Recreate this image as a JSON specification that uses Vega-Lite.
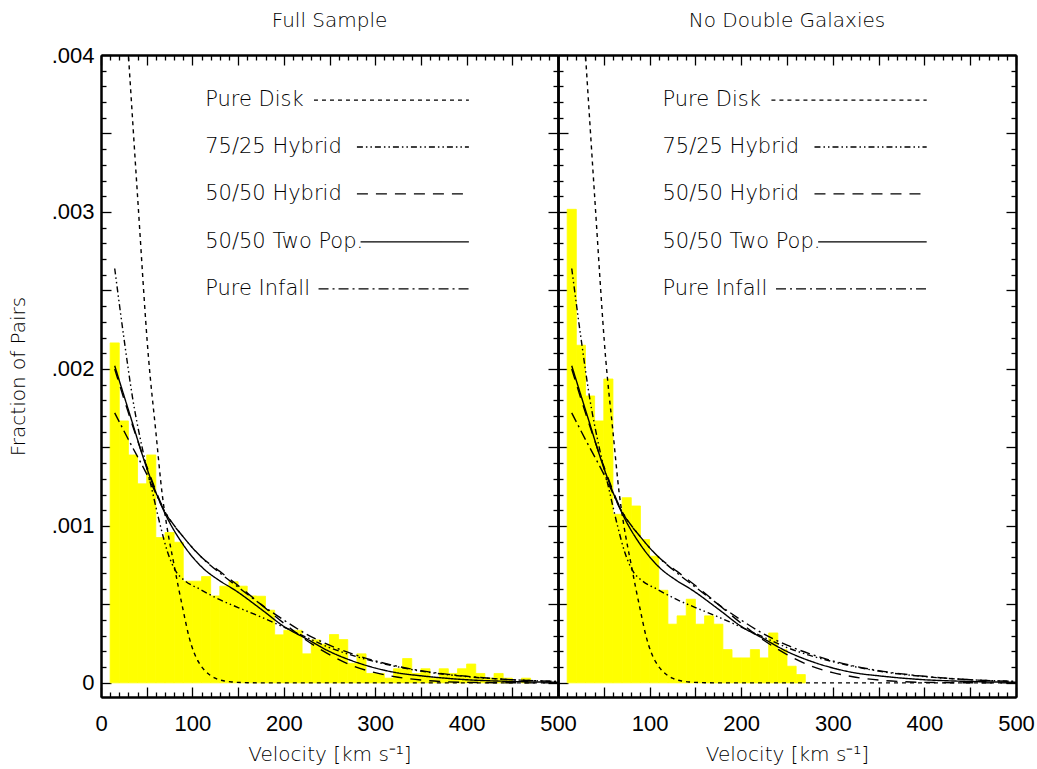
{
  "$schema": "https://vega.github.io/schema/vega-lite/v6.json",
  "padding": {"left": 8, "top": 11, "right": 2, "bottom": 4},
  "bounds": "flush",
  "spacing": 0,
  "config": {
    "view": {"stroke": null},
    "axis": {"grid": false, "domainColor": "black", "domainWidth": 2, "tickColor": "black", "tickWidth": 1.3,
      "labelFont": "Liberation Sans", "labelFontSize": 22, "labelColor": "black", "labelOverlap": false, "labelFlush": false, "labelBound": false,
      "titleFont": "DejaVu Sans", "titleFontWeight": 300, "titleFontSize": 20, "titleColor": "black"},
    "title": {"font": "DejaVu Sans", "fontWeight": 300, "fontSize": 20, "color": "black", "frame": "group"}
  },
  "datasets": {
    "hist": [
      {"panel": "L", "lo": 10, "hi": 20, "f": 0.002166}, {"panel": "L", "lo": 20, "hi": 30, "f": 0.001669},
      {"panel": "L", "lo": 30, "hi": 40, "f": 0.001452}, {"panel": "L", "lo": 40, "hi": 50, "f": 0.001268},
      {"panel": "L", "lo": 50, "hi": 60, "f": 0.001452}, {"panel": "L", "lo": 60, "hi": 70, "f": 0.000926},
      {"panel": "L", "lo": 70, "hi": 80, "f": 0.000958}, {"panel": "L", "lo": 80, "hi": 90, "f": 0.000896},
      {"panel": "L", "lo": 90, "hi": 100, "f": 0.000648}, {"panel": "L", "lo": 100, "hi": 110, "f": 0.000648},
      {"panel": "L", "lo": 110, "hi": 120, "f": 0.000677}, {"panel": "L", "lo": 120, "hi": 130, "f": 0.000554},
      {"panel": "L", "lo": 130, "hi": 140, "f": 0.000616}, {"panel": "L", "lo": 140, "hi": 150, "f": 0.000645},
      {"panel": "L", "lo": 150, "hi": 160, "f": 0.000616}, {"panel": "L", "lo": 160, "hi": 170, "f": 0.000554},
      {"panel": "L", "lo": 170, "hi": 180, "f": 0.000552}, {"panel": "L", "lo": 180, "hi": 190, "f": 0.000463},
      {"panel": "L", "lo": 190, "hi": 200, "f": 0.000306}, {"panel": "L", "lo": 200, "hi": 210, "f": 0.000335},
      {"panel": "L", "lo": 210, "hi": 220, "f": 0.000335}, {"panel": "L", "lo": 220, "hi": 230, "f": 0.000185},
      {"panel": "L", "lo": 230, "hi": 240, "f": 0.000274}, {"panel": "L", "lo": 240, "hi": 250, "f": 0.000246},
      {"panel": "L", "lo": 250, "hi": 260, "f": 0.000308}, {"panel": "L", "lo": 260, "hi": 270, "f": 0.000276},
      {"panel": "L", "lo": 270, "hi": 280, "f": 0.000125}, {"panel": "L", "lo": 280, "hi": 290, "f": 0.000185},
      {"panel": "L", "lo": 290, "hi": 300, "f": 0.00006}, {"panel": "L", "lo": 300, "hi": 310, "f": 0.00006},
      {"panel": "L", "lo": 310, "hi": 320, "f": 0.00003}, {"panel": "L", "lo": 320, "hi": 330, "f": 0.00009},
      {"panel": "L", "lo": 330, "hi": 340, "f": 0.000155}, {"panel": "L", "lo": 340, "hi": 350, "f": 0.00006},
      {"panel": "L", "lo": 350, "hi": 360, "f": 0.00009}, {"panel": "L", "lo": 360, "hi": 370, "f": 0.00003},
      {"panel": "L", "lo": 370, "hi": 380, "f": 0.00009}, {"panel": "L", "lo": 380, "hi": 390, "f": 0.00006},
      {"panel": "L", "lo": 390, "hi": 400, "f": 0.00009}, {"panel": "L", "lo": 400, "hi": 410, "f": 0.00012},
      {"panel": "L", "lo": 410, "hi": 420, "f": 0.00006}, {"panel": "L", "lo": 420, "hi": 430, "f": 0.00003},
      {"panel": "L", "lo": 430, "hi": 440, "f": 0.00006}, {"panel": "L", "lo": 440, "hi": 450, "f": 0.00003},
      {"panel": "L", "lo": 460, "hi": 470, "f": 0.00003},
      {"panel": "R", "lo": 10, "hi": 20, "f": 0.003017}, {"panel": "R", "lo": 20, "hi": 30, "f": 0.002151},
      {"panel": "R", "lo": 30, "hi": 40, "f": 0.001828}, {"panel": "R", "lo": 40, "hi": 50, "f": 0.001669},
      {"panel": "R", "lo": 50, "hi": 60, "f": 0.001936}, {"panel": "R", "lo": 60, "hi": 70, "f": 0.001074},
      {"panel": "R", "lo": 70, "hi": 80, "f": 0.00118}, {"panel": "R", "lo": 80, "hi": 90, "f": 0.001127},
      {"panel": "R", "lo": 90, "hi": 100, "f": 0.000913}, {"panel": "R", "lo": 100, "hi": 110, "f": 0.000807},
      {"panel": "R", "lo": 110, "hi": 120, "f": 0.00059}, {"panel": "R", "lo": 120, "hi": 130, "f": 0.000374},
      {"panel": "R", "lo": 130, "hi": 140, "f": 0.000427}, {"panel": "R", "lo": 140, "hi": 150, "f": 0.000533},
      {"panel": "R", "lo": 150, "hi": 160, "f": 0.000374}, {"panel": "R", "lo": 160, "hi": 170, "f": 0.000427},
      {"panel": "R", "lo": 170, "hi": 180, "f": 0.000374}, {"panel": "R", "lo": 180, "hi": 190, "f": 0.000212},
      {"panel": "R", "lo": 190, "hi": 200, "f": 0.000159}, {"panel": "R", "lo": 200, "hi": 210, "f": 0.000159},
      {"panel": "R", "lo": 210, "hi": 220, "f": 0.000212}, {"panel": "R", "lo": 220, "hi": 230, "f": 0.000159},
      {"panel": "R", "lo": 230, "hi": 240, "f": 0.000318}, {"panel": "R", "lo": 240, "hi": 250, "f": 0.000212},
      {"panel": "R", "lo": 250, "hi": 260, "f": 0.000106}, {"panel": "R", "lo": 260, "hi": 270, "f": 0.000053}
    ],
    "curves": [
      {"model": "Pure Disk", "v": 20, "f": 0.0049}, {"model": "Pure Disk", "v": 30, "f": 0.004},
      {"model": "Pure Disk", "v": 40, "f": 0.0031}, {"model": "Pure Disk", "v": 52, "f": 0.00207},
      {"model": "Pure Disk", "v": 60, "f": 0.0016}, {"model": "Pure Disk", "v": 67, "f": 0.0012},
      {"model": "Pure Disk", "v": 72, "f": 0.001}, {"model": "Pure Disk", "v": 80, "f": 0.00075},
      {"model": "Pure Disk", "v": 85, "f": 0.0006}, {"model": "Pure Disk", "v": 90, "f": 0.00046},
      {"model": "Pure Disk", "v": 96, "f": 0.0003}, {"model": "Pure Disk", "v": 102, "f": 0.00019},
      {"model": "Pure Disk", "v": 107, "f": 0.00013}, {"model": "Pure Disk", "v": 115, "f": 0.00007},
      {"model": "Pure Disk", "v": 125, "f": 0.00003}, {"model": "Pure Disk", "v": 135, "f": 0.000012},
      {"model": "Pure Disk", "v": 145, "f": 0.000005}, {"model": "Pure Disk", "v": 160, "f": 0.000001},
      {"model": "Pure Disk", "v": 180, "f": 0}, {"model": "Pure Disk", "v": 500, "f": 0},
      {"model": "75/25 Hybrid", "v": 15, "f": 0.00264}, {"model": "75/25 Hybrid", "v": 25, "f": 0.0022},
      {"model": "75/25 Hybrid", "v": 35, "f": 0.0018}, {"model": "75/25 Hybrid", "v": 45, "f": 0.0015},
      {"model": "75/25 Hybrid", "v": 55, "f": 0.00125}, {"model": "75/25 Hybrid", "v": 65, "f": 0.001},
      {"model": "75/25 Hybrid", "v": 73, "f": 0.00083}, {"model": "75/25 Hybrid", "v": 82, "f": 0.00071},
      {"model": "75/25 Hybrid", "v": 92, "f": 0.00065}, {"model": "75/25 Hybrid", "v": 107, "f": 0.0006},
      {"model": "75/25 Hybrid", "v": 130, "f": 0.00053}, {"model": "75/25 Hybrid", "v": 150, "f": 0.00048},
      {"model": "75/25 Hybrid", "v": 175, "f": 0.00042}, {"model": "75/25 Hybrid", "v": 200, "f": 0.000355},
      {"model": "75/25 Hybrid", "v": 225, "f": 0.00029}, {"model": "75/25 Hybrid", "v": 250, "f": 0.000225},
      {"model": "75/25 Hybrid", "v": 275, "f": 0.000175}, {"model": "75/25 Hybrid", "v": 300, "f": 0.000135},
      {"model": "75/25 Hybrid", "v": 350, "f": 0.000075}, {"model": "75/25 Hybrid", "v": 400, "f": 0.00004},
      {"model": "75/25 Hybrid", "v": 450, "f": 0.00002}, {"model": "75/25 Hybrid", "v": 500, "f": 0.000009},
      {"model": "50/50 Hybrid", "v": 15, "f": 0.002}, {"model": "50/50 Hybrid", "v": 30, "f": 0.00172},
      {"model": "50/50 Hybrid", "v": 50, "f": 0.00138}, {"model": "50/50 Hybrid", "v": 70, "f": 0.00109},
      {"model": "50/50 Hybrid", "v": 90, "f": 0.00093}, {"model": "50/50 Hybrid", "v": 110, "f": 0.0008},
      {"model": "50/50 Hybrid", "v": 130, "f": 0.00071}, {"model": "50/50 Hybrid", "v": 150, "f": 0.00062},
      {"model": "50/50 Hybrid", "v": 175, "f": 0.0005}, {"model": "50/50 Hybrid", "v": 200, "f": 0.00038},
      {"model": "50/50 Hybrid", "v": 225, "f": 0.00027}, {"model": "50/50 Hybrid", "v": 250, "f": 0.00018},
      {"model": "50/50 Hybrid", "v": 275, "f": 0.00011}, {"model": "50/50 Hybrid", "v": 300, "f": 0.000065},
      {"model": "50/50 Hybrid", "v": 325, "f": 0.000036}, {"model": "50/50 Hybrid", "v": 350, "f": 0.000018},
      {"model": "50/50 Hybrid", "v": 375, "f": 0.000008}, {"model": "50/50 Hybrid", "v": 400, "f": 0.000003},
      {"model": "50/50 Hybrid", "v": 450, "f": 0.0000005}, {"model": "50/50 Hybrid", "v": 500, "f": 0},
      {"model": "50/50 Two Pop.", "v": 15, "f": 0.00202}, {"model": "50/50 Two Pop.", "v": 31, "f": 0.00172},
      {"model": "50/50 Two Pop.", "v": 50, "f": 0.00137}, {"model": "50/50 Two Pop.", "v": 70, "f": 0.00108},
      {"model": "50/50 Two Pop.", "v": 90, "f": 0.00088}, {"model": "50/50 Two Pop.", "v": 109, "f": 0.000745},
      {"model": "50/50 Two Pop.", "v": 130, "f": 0.00065}, {"model": "50/50 Two Pop.", "v": 146, "f": 0.000593},
      {"model": "50/50 Two Pop.", "v": 175, "f": 0.00047}, {"model": "50/50 Two Pop.", "v": 200, "f": 0.00036},
      {"model": "50/50 Two Pop.", "v": 225, "f": 0.00028}, {"model": "50/50 Two Pop.", "v": 250, "f": 0.0002},
      {"model": "50/50 Two Pop.", "v": 275, "f": 0.00014}, {"model": "50/50 Two Pop.", "v": 300, "f": 0.000095},
      {"model": "50/50 Two Pop.", "v": 325, "f": 0.000063}, {"model": "50/50 Two Pop.", "v": 350, "f": 0.000045},
      {"model": "50/50 Two Pop.", "v": 400, "f": 0.00002}, {"model": "50/50 Two Pop.", "v": 450, "f": 0.000009},
      {"model": "50/50 Two Pop.", "v": 500, "f": 0.000004},
      {"model": "Pure Infall", "v": 15, "f": 0.00172}, {"model": "Pure Infall", "v": 30, "f": 0.00155},
      {"model": "Pure Infall", "v": 50, "f": 0.00133}, {"model": "Pure Infall", "v": 70, "f": 0.00109},
      {"model": "Pure Infall", "v": 90, "f": 0.00093}, {"model": "Pure Infall", "v": 110, "f": 0.0008},
      {"model": "Pure Infall", "v": 130, "f": 0.0007}, {"model": "Pure Infall", "v": 150, "f": 0.00061},
      {"model": "Pure Infall", "v": 175, "f": 0.0005}, {"model": "Pure Infall", "v": 200, "f": 0.0004},
      {"model": "Pure Infall", "v": 225, "f": 0.00031}, {"model": "Pure Infall", "v": 250, "f": 0.00024},
      {"model": "Pure Infall", "v": 275, "f": 0.000185}, {"model": "Pure Infall", "v": 300, "f": 0.00014},
      {"model": "Pure Infall", "v": 325, "f": 0.000105}, {"model": "Pure Infall", "v": 350, "f": 0.000078},
      {"model": "Pure Infall", "v": 400, "f": 0.000042}, {"model": "Pure Infall", "v": 450, "f": 0.00002},
      {"model": "Pure Infall", "v": 500, "f": 0.000009}
    ],
    "legend": [
      {"model": "Pure Disk", "tx": 114, "x1": 233, "x2": 402.5, "y": 0.003713},
      {"model": "75/25 Hybrid", "tx": 114, "x1": 280, "x2": 402.5, "y": 0.003414},
      {"model": "50/50 Hybrid", "tx": 114, "x1": 280, "x2": 402.5, "y": 0.003115},
      {"model": "50/50 Two Pop.", "tx": 114, "x1": 284, "x2": 402.5, "y": 0.002809},
      {"model": "Pure Infall", "tx": 114, "x1": 238, "x2": 402.5, "y": 0.00251}
    ]
  },
  "hconcat": [
    {
      "width": 457, "height": 642,
      "title": {"text": "Full Sample", "offset": 13},
      "layer": [
        {
          "data": {"name": "hist"},
          "transform": [{"filter": "datum.panel === 'L'"}],
          "mark": {"type": "bar", "color": "#FFFF00", "stroke": "#FFFF00", "strokeWidth": 0.8},
          "encoding": {
            "x": {"field": "lo", "type": "quantitative", "scale": {"domain": [0, 500], "nice": false, "zero": false},
              "axis": {"orient": "bottom", "values": [0,50,100,150,200,250,300,350,400,450,500], "tickSize": -10,
                "labelExpr": "datum.value % 100 === 0 ? datum.label : ''", "labelPadding": 26,
                "title": "Velocity [km s⁻¹]", "titlePadding": 10}},
            "x2": {"field": "hi"},
            "y": {"field": "f", "type": "quantitative", "scale": {"domain": [-0.00009, 0.004], "nice": false, "zero": false},
              "axis": {"orient": "left", "values": [0,0.0005,0.001,0.0015,0.002,0.0025,0.003,0.0035,0.004], "tickSize": -10,
                "labelExpr": "datum.value === 0 ? '0' : (round(datum.value*10000) % 10 === 0 ? replace(format(datum.value, '.3f'), '0.', '.') : '')",
                "labelPadding": 17, "title": "Fraction of Pairs", "titlePadding": 23}},
            "y2": {"datum": 0}
          }
        },
        {
          "data": {"name": "curves"},
          "mark": {"type": "line", "clip": true, "color": "black", "strokeWidth": 1.4, "interpolate": "monotone"},
          "encoding": {
            "x": {"field": "v", "type": "quantitative", "scale": {"domain": [0, 500], "nice": false, "zero": false},
              "axis": {"orient": "top", "values": [0,50,100,150,200,250,300,350,400,450,500], "tickSize": -10, "labels": false, "title": null}},
            "y": {"field": "f", "type": "quantitative", "scale": {"domain": [-0.00009, 0.004], "nice": false, "zero": false},
              "axis": {"orient": "right", "values": [0,0.0005,0.001,0.0015,0.002,0.0025,0.003,0.0035,0.004], "tickSize": -10, "labels": false, "title": null}},
            "strokeDash": {"field": "model", "type": "nominal", "legend": null,
              "scale": {"domain": ["Pure Disk", "75/25 Hybrid", "50/50 Hybrid", "50/50 Two Pop.", "Pure Infall"],
                "range": [[4, 4], [6, 3, 1.5, 3, 1.5, 3], [11, 8], [1, 0], [10, 4, 2, 4]]}}
          }
        },
        {
          "data": {"name": "legend"},
          "mark": {"type": "rule", "color": "black", "strokeWidth": 1.3},
          "encoding": {
            "x": {"field": "x1", "type": "quantitative", "scale": {"domain": [0, 500], "nice": false, "zero": false},
              "axis": {"orient": "bottom", "values": [10,20,30,40,60,70,80,90,110,120,130,140,160,170,180,190,210,220,230,240,260,270,280,290,310,320,330,340,360,370,380,390,410,420,430,440,460,470,480,490], "tickSize": -5, "labels": false, "title": null}},
            "x2": {"field": "x2"},
            "y": {"field": "y", "type": "quantitative", "scale": {"domain": [-0.00009, 0.004], "nice": false, "zero": false},
              "axis": {"orient": "left", "values": [0.0001,0.0002,0.0003,0.0004,0.0006,0.0007,0.0008,0.0009,0.0011,0.0012,0.0013,0.0014,0.0016,0.0017,0.0018,0.0019,0.0021,0.0022,0.0023,0.0024,0.0026,0.0027,0.0028,0.0029,0.0031,0.0032,0.0033,0.0034,0.0036,0.0037,0.0038,0.0039], "tickSize": -5, "labels": false, "title": null}},
            "strokeDash": {"field": "model", "type": "nominal", "legend": null}
          }
        },
        {
          "data": {"name": "legend"},
          "mark": {"type": "text", "align": "left", "baseline": "middle", "font": "DejaVu Sans", "fontWeight": 300, "fontSize": 21, "color": "black"},
          "encoding": {
            "x": {"field": "tx", "type": "quantitative", "scale": {"domain": [0, 500], "nice": false, "zero": false},
              "axis": {"orient": "top", "values": [10,20,30,40,60,70,80,90,110,120,130,140,160,170,180,190,210,220,230,240,260,270,280,290,310,320,330,340,360,370,380,390,410,420,430,440,460,470,480,490], "tickSize": -5, "labels": false, "title": null}},
            "y": {"field": "y", "type": "quantitative", "scale": {"domain": [-0.00009, 0.004], "nice": false, "zero": false},
              "axis": {"orient": "right", "values": [0.0001,0.0002,0.0003,0.0004,0.0006,0.0007,0.0008,0.0009,0.0011,0.0012,0.0013,0.0014,0.0016,0.0017,0.0018,0.0019,0.0021,0.0022,0.0023,0.0024,0.0026,0.0027,0.0028,0.0029,0.0031,0.0032,0.0033,0.0034,0.0036,0.0037,0.0038,0.0039], "tickSize": -5, "labels": false, "title": null}},
            "text": {"field": "model"}
          }
        }
      ],
      "resolve": {"axis": {"x": "independent", "y": "independent"}}
    },
    {
      "width": 458, "height": 642,
      "title": {"text": "No Double Galaxies", "offset": 23},
      "layer": [
        {
          "data": {"name": "hist"},
          "transform": [{"filter": "datum.panel === 'R'"}],
          "mark": {"type": "bar", "color": "#FFFF00", "stroke": "#FFFF00", "strokeWidth": 0.8},
          "encoding": {
            "x": {"field": "lo", "type": "quantitative", "scale": {"domain": [0, 500], "nice": false, "zero": false},
              "axis": {"orient": "bottom", "values": [0,50,100,150,200,250,300,350,400,450,500], "tickSize": -10,
                "labelExpr": "datum.value % 100 === 0 && datum.value > 0 ? datum.label : ''", "labelPadding": 26,
                "title": "Velocity [km s⁻¹]", "titlePadding": 10}},
            "x2": {"field": "hi"},
            "y": {"field": "f", "type": "quantitative", "scale": {"domain": [-0.00009, 0.004], "nice": false, "zero": false},
              "axis": {"orient": "left", "values": [0,0.0005,0.001,0.0015,0.002,0.0025,0.003,0.0035,0.004], "tickSize": -10, "labels": false, "title": null}},
            "y2": {"datum": 0}
          }
        },
        {
          "data": {"name": "curves"},
          "mark": {"type": "line", "clip": true, "color": "black", "strokeWidth": 1.4, "interpolate": "monotone"},
          "encoding": {
            "x": {"field": "v", "type": "quantitative", "scale": {"domain": [0, 500], "nice": false, "zero": false},
              "axis": {"orient": "top", "values": [0,50,100,150,200,250,300,350,400,450,500], "tickSize": -10, "labels": false, "title": null}},
            "y": {"field": "f", "type": "quantitative", "scale": {"domain": [-0.00009, 0.004], "nice": false, "zero": false},
              "axis": {"orient": "right", "values": [0,0.0005,0.001,0.0015,0.002,0.0025,0.003,0.0035,0.004], "tickSize": -10, "labels": false, "title": null}},
            "strokeDash": {"field": "model", "type": "nominal", "legend": null,
              "scale": {"domain": ["Pure Disk", "75/25 Hybrid", "50/50 Hybrid", "50/50 Two Pop.", "Pure Infall"],
                "range": [[4, 4], [6, 3, 1.5, 3, 1.5, 3], [11, 8], [1, 0], [10, 4, 2, 4]]}}
          }
        },
        {
          "data": {"name": "legend"},
          "mark": {"type": "rule", "color": "black", "strokeWidth": 1.3},
          "encoding": {
            "x": {"field": "x1", "type": "quantitative", "scale": {"domain": [0, 500], "nice": false, "zero": false},
              "axis": {"orient": "bottom", "values": [10,20,30,40,60,70,80,90,110,120,130,140,160,170,180,190,210,220,230,240,260,270,280,290,310,320,330,340,360,370,380,390,410,420,430,440,460,470,480,490], "tickSize": -5, "labels": false, "title": null}},
            "x2": {"field": "x2"},
            "y": {"field": "y", "type": "quantitative", "scale": {"domain": [-0.00009, 0.004], "nice": false, "zero": false},
              "axis": {"orient": "left", "values": [0.0001,0.0002,0.0003,0.0004,0.0006,0.0007,0.0008,0.0009,0.0011,0.0012,0.0013,0.0014,0.0016,0.0017,0.0018,0.0019,0.0021,0.0022,0.0023,0.0024,0.0026,0.0027,0.0028,0.0029,0.0031,0.0032,0.0033,0.0034,0.0036,0.0037,0.0038,0.0039], "tickSize": -5, "labels": false, "title": null}},
            "strokeDash": {"field": "model", "type": "nominal", "legend": null}
          }
        },
        {
          "data": {"name": "legend"},
          "mark": {"type": "text", "align": "left", "baseline": "middle", "font": "DejaVu Sans", "fontWeight": 300, "fontSize": 21, "color": "black"},
          "encoding": {
            "x": {"field": "tx", "type": "quantitative", "scale": {"domain": [0, 500], "nice": false, "zero": false},
              "axis": {"orient": "top", "values": [10,20,30,40,60,70,80,90,110,120,130,140,160,170,180,190,210,220,230,240,260,270,280,290,310,320,330,340,360,370,380,390,410,420,430,440,460,470,480,490], "tickSize": -5, "labels": false, "title": null}},
            "y": {"field": "y", "type": "quantitative", "scale": {"domain": [-0.00009, 0.004], "nice": false, "zero": false},
              "axis": {"orient": "right", "values": [0.0001,0.0002,0.0003,0.0004,0.0006,0.0007,0.0008,0.0009,0.0011,0.0012,0.0013,0.0014,0.0016,0.0017,0.0018,0.0019,0.0021,0.0022,0.0023,0.0024,0.0026,0.0027,0.0028,0.0029,0.0031,0.0032,0.0033,0.0034,0.0036,0.0037,0.0038,0.0039], "tickSize": -5, "labels": false, "title": null}},
            "text": {"field": "model"}
          }
        }
      ],
      "resolve": {"axis": {"x": "independent", "y": "independent"}}
    }
  ]
}
